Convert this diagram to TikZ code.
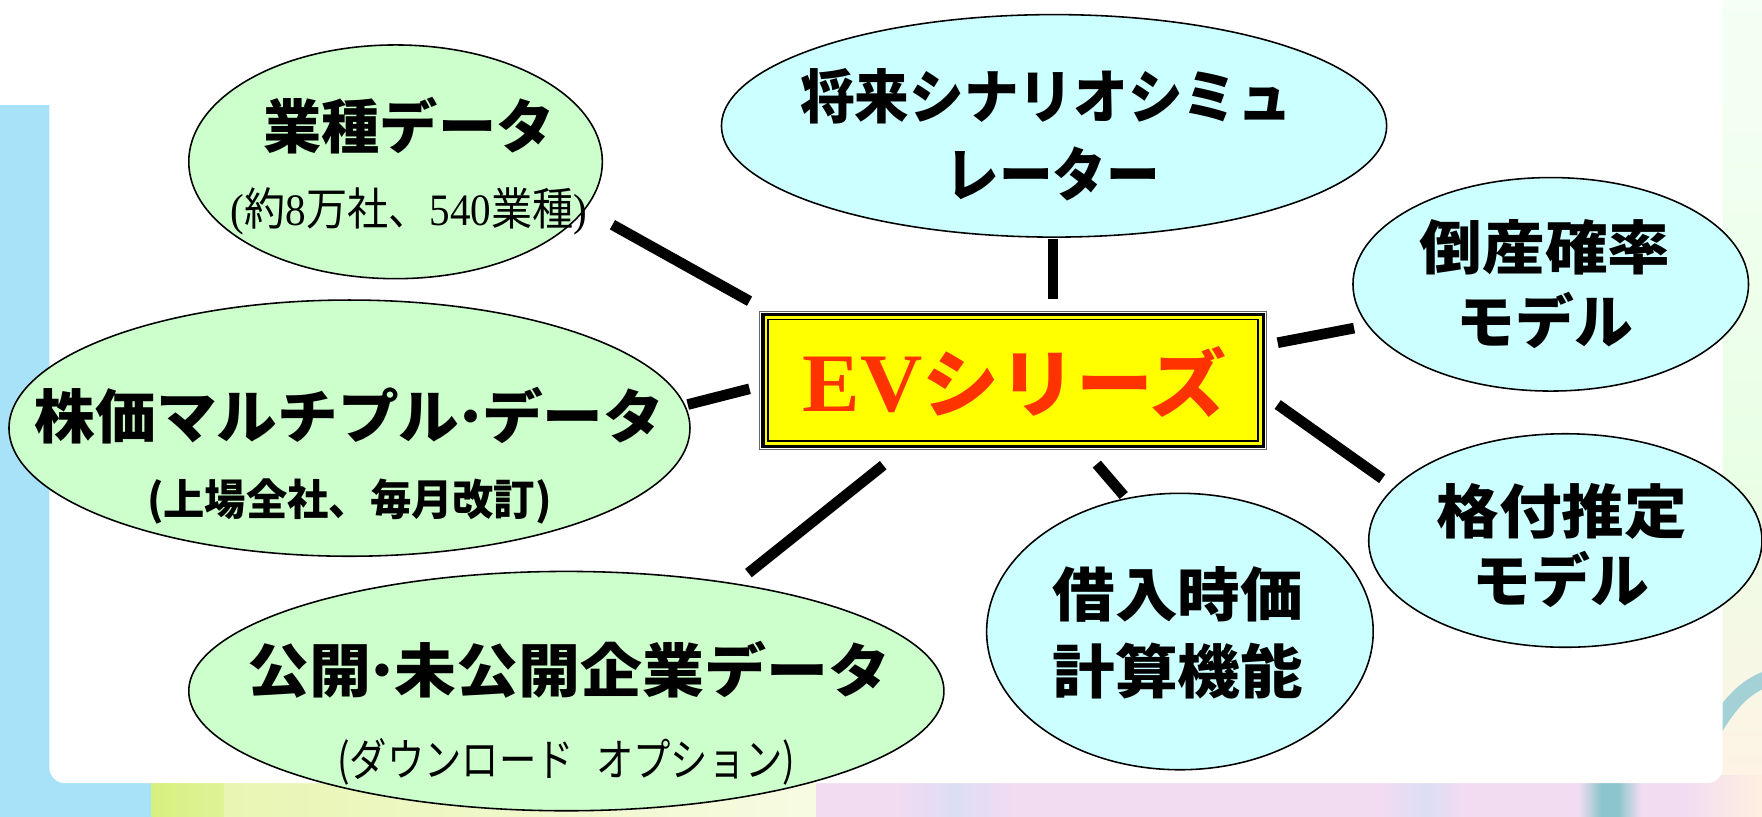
\documentclass[tikz,border=0pt]{standalone}
\usepackage{fontspec}
\usepackage{graphicx}
\usetikzlibrary{shapes.geometric}
\newfontfamily\jp{Noto Sans CJK JP}
\newfontfamily\srf{Liberation Serif}
\newcommand\fw[2]{\resizebox{#1pt}{\height}{#2}}
\newcommand\tdot{\kern-0.12em·\kern-0.12em}
\definecolor{egreen}{HTML}{CCFFCC}
\definecolor{ecyan}{HTML}{CCFFFF}
\definecolor{lblue}{HTML}{A8E2F8}
\definecolor{evred}{HTML}{FF3300}
\definecolor{boxyellow}{HTML}{FFFF00}
\definecolor{ygreen}{HTML}{D6F07E}
\definecolor{pyellow}{HTML}{F4F9D6}
\definecolor{plav}{HTML}{F1DCF2}
\definecolor{pblue}{HTML}{DCDDF6}
\definecolor{tealband}{HTML}{8CC6CC}
\tikzset{
  gell/.style={ellipse, draw=black, fill=egreen, line width=1.4pt, inner sep=0pt},
  cell/.style={ellipse, draw=black, fill=ecyan, line width=1.4pt, inner sep=0pt},
  lbl/.style={inner sep=0pt, font={\jp\bfseries\fontsize{52pt}{52pt}\selectfont}},
  sublbl/.style={inner sep=0pt, font={\jp\fontsize{40pt}{40pt}\selectfont}},
  subbold/.style={inner sep=0pt, font={\jp\bfseries\fontsize{38pt}{38pt}\selectfont}},
  conn/.style={line width=9.5pt, black},
}
\begin{document}
\begin{tikzpicture}[x=1pt,y=-1pt]
\useasboundingbox (0,0) rectangle (1568,727);
% ---------- background ----------
\fill[white] (0,0) rectangle (1568,727);
\fill[lblue] (0,93) rectangle (70,727);
\shade[top color=green!4!white, bottom color=yellow!14!green!10!white] (1500,0) rectangle (1568,420);
\shade[top color=yellow!14!green!10!white, bottom color=orange!10!white] (1500,420) rectangle (1568,700);
\fill[lblue] (0,690) rectangle (135,727);
\shade[left color=ygreen, right color=ygreen!70!pyellow] (135,690) rectangle (200,727);
\shade[left color=ygreen!40!pyellow, right color=pyellow!70!white] (200,690) rectangle (726,727);
\fill[plav] (726,690) rectangle (1568,727);
\shade[left color=plav, right color=pblue] (800,690) rectangle (850,727);
\shade[left color=pblue, right color=plav] (850,690) rectangle (900,727);
\shade[left color=plav, right color=pblue] (1230,690) rectangle (1270,727);
\shade[left color=pblue, right color=plav] (1270,690) rectangle (1300,727);
\shade[left color=plav, right color=tealband] (1405,690) rectangle (1425,727);
\shade[left color=tealband, right color=plav] (1440,690) rectangle (1460,727);
\fill[tealband] (1425,690) rectangle (1440,727);
\shade[left color=plav, right color=orange!12!white] (1500,690) rectangle (1568,727);
\draw[tealband!80!white, line width=14pt] (1525,650) .. controls (1540,625) and (1552,612) .. (1572,604);
\fill[white, rounded corners=14pt] (44,-30) rectangle (1533,697);
% ---------- ellipses ----------
\node[gell, minimum width=368pt, minimum height=208pt] (gyoshu) at (352,144) {};
\node[gell, minimum width=606pt, minimum height=228pt] (kabuka) at (311,381) {};
\node[gell, minimum width=672pt, minimum height=213pt] (kokai) at (504,615) {};
\node[cell, minimum width=592pt, minimum height=198pt] (shorai) at (938,112) {};
\node[cell, minimum width=352pt, minimum height=190pt] (tosan) at (1380,253) {};
\node[cell, minimum width=350pt, minimum height=190pt] (kakuzuke) at (1393,481) {};
\node[cell, minimum width=344pt, minimum height=246pt] (kariire) at (1050,562) {};
% ---------- labels ----------
\node[lbl] (gyoshuA) at (364,112) {\fw{259}{業種データ}};
\node[sublbl] (gyoshuB) at (364,188) {\fw{317}{{\srf(}約{\srf 8}万社、{\srf 540}業種{\srf)}}};
\node[lbl] (kabukaA) at (311,370) {\fw{560}{株価マルチプル\tdot データ}};
\node[subbold] (kabukaB) at (311,446) {\fw{360}{(上場全社、毎月改訂)}};
\node[lbl] (kokaiA) at (506,596) {\fw{572}{公開\tdot 未公開企業データ}};
\node[sublbl] (kokaiB) at (504,678) {\fw{408}{(ダウンロード\hspace{0.6em}オプション)}};
\node[lbl] (shoraiA) at (931,86) {\fw{438}{将来シナリオシミュ}};
\node[lbl] (shoraiB) at (937,155) {\fw{191}{レーター}};
\node[lbl] (tosanA) at (1375,220) {\fw{223}{倒産確率}};
\node[lbl] (tosanB) at (1375,285) {\fw{157}{モデル}};
\node[lbl] (kakuzukeA) at (1390,455) {\fw{223}{格付推定}};
\node[lbl] (kakuzukeB) at (1389,516) {\fw{157}{モデル}};
\node[lbl] (kariireA) at (1048,529) {\fw{223}{借入時価}};
\node[lbl] (kariireB) at (1048,597) {\fw{223}{計算機能}};
% ---------- centre box ----------
\node[draw=black!60, line width=1.2pt, fill=white, minimum width=451pt, minimum height=123pt, inner sep=0pt] (ev) at (901.5,338.5) {};
\draw[line width=3pt, fill=boxyellow] ([shift={(3.5,3.5)}]ev.north west) rectangle ([shift={(-3.5,-3.5)}]ev.south east);
\draw[line width=1.5pt] ([shift={(8,8)}]ev.north west) rectangle ([shift={(-8,-8)}]ev.south east);
\node[inner sep=0pt, text=evred] (evtext) at (903,340) {\fw{377}{{\srf\bfseries\fontsize{74pt}{74pt}\selectfont EV}{\jp\bfseries\fontsize{66pt}{66pt}\selectfont シリーズ}}};
% ---------- connectors ----------
\coordinate (c1a) at (545,200); \coordinate (c1b) at (667,268);
\coordinate (c2a) at (937,213); \coordinate (c2b) at (937,266);
\coordinate (c3a) at (1137,305); \coordinate (c3b) at (1205,292);
\coordinate (c4a) at (1137,360); \coordinate (c4b) at (1230,426);
\coordinate (c5a) at (976,413); \coordinate (c5b) at (1000,441);
\coordinate (c6a) at (786,414); \coordinate (c6b) at (666,510);
\coordinate (c7a) at (612,360); \coordinate (c7b) at (667,346);
\draw[conn] (c1a) -- (c1b);
\draw[conn] (c2a) -- (c2b);
\draw[conn] (c3a) -- (c3b);
\draw[conn] (c4a) -- (c4b);
\draw[conn] (c5a) -- (c5b);
\draw[conn] (c6a) -- (c6b);
\draw[conn] (c7a) -- (c7b);
\end{tikzpicture}
\end{document}
